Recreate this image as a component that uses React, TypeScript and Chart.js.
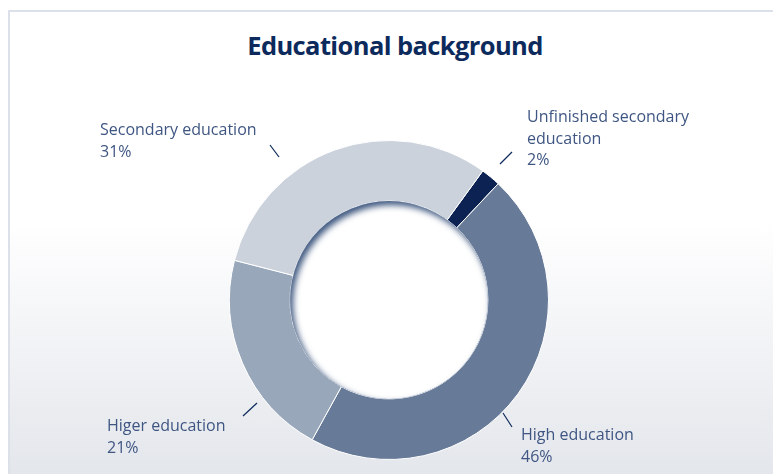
import React, { useEffect, useRef } from "react";
import { Chart, registerables } from "chart.js";

Chart.register(...registerables);

const categories = [
  "Unfinished secondary education",
  "High education",
  "Higer education",
  "Secondary education",
];
const values = [2, 46, 21, 31];
const labelLines = [
  ["Unfinished secondary", "education", "2%"],
  ["High education", "46%"],
  ["Higer education", "21%"],
  ["Secondary education", "31%"],
];
const colors = ["#0b2252", "#677a98", "#98a7ba", "#cbd2dc"];

// label layout relative to doughnut centre: text x,y (first line centre), leader line from/to
const layout = [
  { tx: 138, ty: -184, l: [111, -136, 123, -148] },
  { tx: 132, ty: 134, l: [114, 113, 123, 127] },
  { tx: -282, ty: 125, l: [-132, 103, -146, 116] },
  { tx: -289, ty: -171, l: [-119, -155, -110, -143] },
];

export default function App() {
  const ref = useRef<HTMLCanvasElement>(null);
  useEffect(() => {
    if (!ref.current) return;
    const labelPlugin = {
      id: "labelsAndShadow",
      afterDatasetsDraw(chart: any) {
        const ctx = chart.ctx as CanvasRenderingContext2D;
        const arc = chart.getDatasetMeta(0).data[0] as any;
        const cx = arc.x;
        const cy = arc.y;
        const ir = arc.innerRadius;
        // inner hole with inset shadow
        ctx.save();
        ctx.beginPath();
        ctx.arc(cx, cy, ir, 0, Math.PI * 2);
        ctx.clip();
        ctx.fillStyle = "#ffffff";
        ctx.fillRect(cx - ir, cy - ir, ir * 2, ir * 2);
        ctx.beginPath();
        ctx.rect(cx - ir - 60, cy - ir - 60, ir * 2 + 120, ir * 2 + 120);
        ctx.arc(cx, cy, ir, 0, Math.PI * 2, true);
        ctx.shadowColor = "rgba(52,78,120,0.95)";
        ctx.shadowBlur = 6;
        ctx.shadowOffsetX = 3;
        ctx.shadowOffsetY = 4;
        ctx.fillStyle = "#4a6288";
        ctx.fill("evenodd");
        ctx.restore();

        // labels
        ctx.save();
        ctx.font = '16px "Open Sans"';
        ctx.textBaseline = "middle";
        ctx.textAlign = "left";
        labelLines.forEach((lines, i) => {
          const L = layout[i];
          ctx.fillStyle = "#3f5683";
          lines.forEach((t, j) => {
            ctx.fillText(t, cx + L.tx, cy + L.ty + 1.5 + j * 21.5);
          });
          ctx.strokeStyle = "#0d2a5c";
          ctx.lineWidth = 1.2;
          ctx.beginPath();
          ctx.moveTo(cx + L.l[0], cy + L.l[1]);
          ctx.lineTo(cx + L.l[2], cy + L.l[3]);
          ctx.stroke();
        });
        ctx.restore();
      },
    };
    const chart = new Chart(ref.current, {
      type: "doughnut",
      data: {
        labels: categories,
        datasets: [
          {
            data: values,
            backgroundColor: colors,
            borderColor: "#ffffff",
            borderWidth: 1,
          },
        ],
      },
      options: {
        animation: false,
        responsive: false,
        rotation: 36,
        cutout: "62%",
        layout: { padding: { left: 229, right: 224, top: 140, bottom: 14 } },
        plugins: {
          legend: { display: false },
          tooltip: { enabled: false },
          title: { display: false },
        },
      },
      plugins: [labelPlugin],
    });
    return () => chart.destroy();
  }, []);

  return (
    <div
      style={{
        position: "fixed",
        left: 0,
        top: 0,
        width: 773,
        height: 474,
        background: "#ffffff",
        overflow: "hidden",
      }}
    >
      <div
        style={{
          position: "absolute",
          left: 8,
          top: 10,
          width: 800,
          height: 500,
          borderTop: "2px solid #dce1e9",
          borderLeft: "2px solid #dce1e9",
          background:
            "linear-gradient(to bottom, #ffffff 0px, #ffffff 210px, #e3e6eb 464px)",
        }}
      />
      <div
        style={{
          position: "absolute",
          left: 0,
          top: 27,
          width: 790,
          textAlign: "center",
          fontFamily: '"Open Sans", sans-serif',
          fontWeight: 700,
          fontSize: 25.5,
          letterSpacing: -0.6,
          color: "#0d2a5c",
          lineHeight: "36px",
        }}
      >
        Educational background
      </div>
      <canvas
        ref={ref}
        width={773}
        height={474}
        style={{ position: "absolute", left: 0, top: 0 }}
      />
    </div>
  );
}
